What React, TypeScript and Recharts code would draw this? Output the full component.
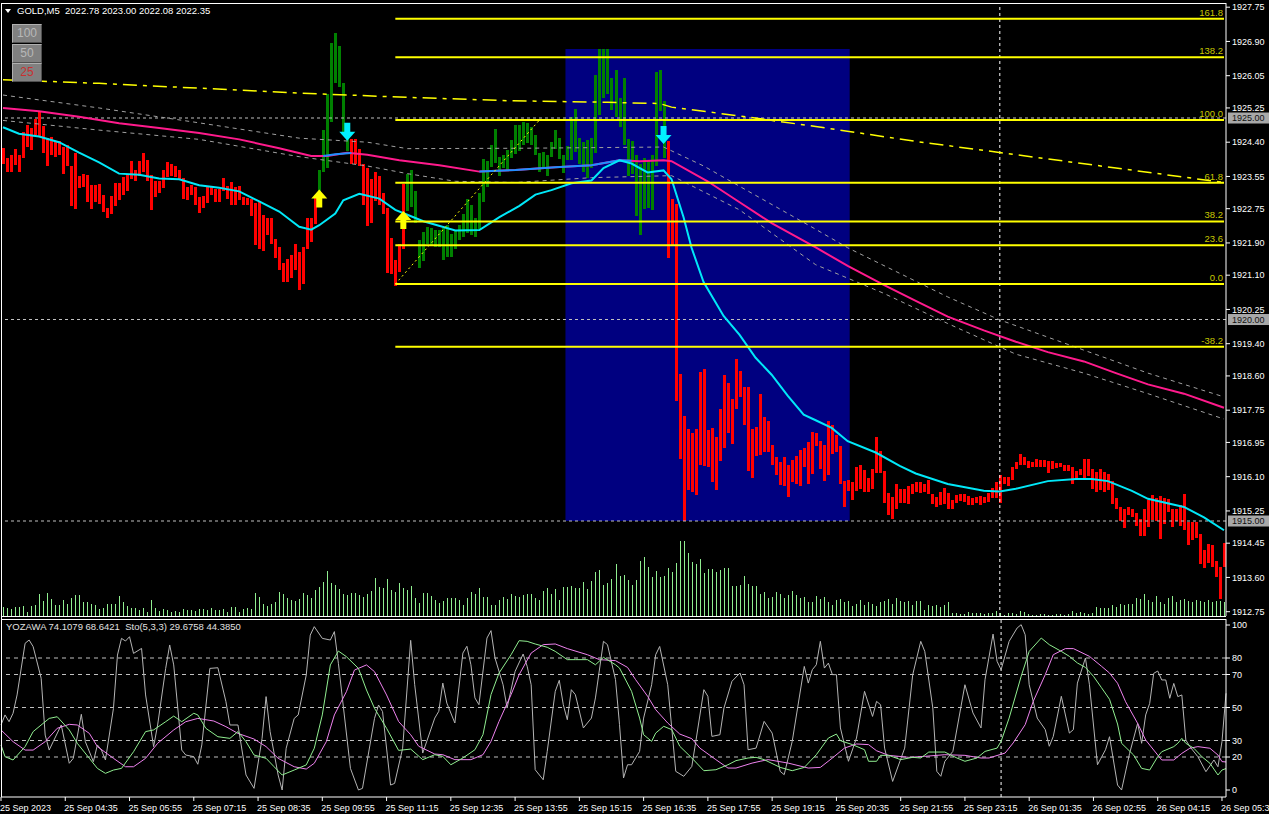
import React from "react"
import {
  ComposedChart, Bar, Line, XAxis, YAxis, ReferenceLine, ReferenceArea, ReferenceDot,
} from "recharts"

const FONT = "'Liberation Sans', Arial, sans-serif"
const W = 1269

// bar highs / lows, one per 5 min bar
const HIGH = [
  1924.26, 1924.02, 1924.09, 1924.23, 1924.07, 1924.66, 1924.82, 1924.75, 1924.97, 1925.17,
  1924.81, 1924.51, 1924.53, 1924.44, 1924.44, 1924.28, 1924.33, 1923.81, 1924.12, 1923.57,
  1923.62, 1923.59, 1923.34, 1923.34, 1923.37, 1923.10, 1922.77, 1923.07, 1923.39, 1923.39,
  1923.53, 1923.62, 1923.93, 1923.71, 1923.93, 1924.14, 1923.95, 1923.59, 1923.43, 1923.43,
  1923.70, 1923.90, 1923.87, 1923.81, 1923.71, 1923.50, 1923.29, 1923.34, 1923.29, 1923.03,
  1923.06, 1923.29, 1923.29, 1923.23, 1923.24, 1923.51, 1923.32, 1923.40, 1923.29, 1923.31,
  1923.03, 1923.01, 1922.98, 1922.88, 1922.91, 1922.60, 1922.52, 1922.52, 1921.99, 1921.80,
  1921.41, 1921.50, 1921.60, 1921.88, 1921.67, 1921.81, 1922.52, 1922.52, 1923.03, 1923.71,
  1924.70, 1925.59, 1926.85, 1927.10, 1926.79, 1925.86, 1924.61, 1924.47, 1924.47, 1924.23,
  1923.87, 1923.76, 1923.48, 1923.67, 1923.57, 1923.15, 1922.77, 1922.02, 1921.48, 1921.88,
  1923.37, 1923.60, 1923.71, 1923.20, 1921.97, 1922.16, 1922.30, 1922.27, 1922.21, 1922.21,
  1922.27, 1922.35, 1922.11, 1922.21, 1922.35, 1922.63, 1922.99, 1922.84, 1922.51, 1923.13,
  1923.99, 1923.93, 1924.33, 1924.72, 1924.04, 1924.09, 1924.20, 1924.45, 1924.82, 1924.82,
  1924.89, 1924.87, 1924.77, 1924.58, 1924.14, 1924.16, 1924.09, 1924.40, 1924.70, 1924.50,
  1924.09, 1924.30, 1925.02, 1925.22, 1924.50, 1924.40, 1924.46, 1924.50, 1926.07, 1926.72,
  1926.72, 1926.72, 1925.99, 1926.20, 1925.50, 1925.99, 1924.49, 1924.42, 1924.09, 1923.86,
  1924.00, 1923.95, 1924.09, 1926.14, 1926.20, 1925.41, 1924.42, 1922.99, 1922.87, 1918.65,
  1917.61, 1917.29, 1917.18, 1917.29, 1918.70, 1918.78, 1917.27, 1917.32, 1917.08, 1917.77,
  1918.62, 1918.42, 1918.02, 1919.03, 1918.73, 1918.32, 1918.32, 1917.29, 1917.34, 1918.14,
  1917.57, 1917.48, 1916.88, 1916.59, 1916.47, 1916.59, 1916.40, 1916.52, 1916.61, 1916.77,
  1916.80, 1916.96, 1917.20, 1917.18, 1916.99, 1916.89, 1917.49, 1917.38, 1917.13, 1916.87,
  1916.00, 1916.02, 1915.97, 1916.33, 1916.40, 1916.26, 1916.07, 1916.28, 1917.08, 1916.73,
  1916.24, 1915.70, 1915.60, 1915.93, 1915.79, 1915.79, 1915.88, 1915.93, 1915.98, 1915.97,
  1915.93, 1916.02, 1915.67, 1915.60, 1915.72, 1915.83, 1915.70, 1915.53, 1915.65, 1915.67,
  1915.67, 1915.62, 1915.56, 1915.60, 1915.61, 1915.60, 1915.69, 1915.83, 1915.97, 1916.14,
  1916.09, 1916.08, 1916.35, 1916.47, 1916.66, 1916.59, 1916.49, 1916.47, 1916.55, 1916.52,
  1916.52, 1916.49, 1916.50, 1916.44, 1916.44, 1916.40, 1916.40, 1916.35, 1916.25, 1916.30,
  1916.55, 1916.55, 1916.28, 1916.21, 1916.28, 1916.21, 1916.16, 1916.00, 1915.58, 1915.36,
  1915.30, 1915.34, 1915.30, 1915.20, 1915.06, 1915.31, 1915.53, 1915.64, 1915.56, 1915.62,
  1915.58, 1915.55, 1915.30, 1915.30, 1915.39, 1915.67, 1914.97, 1914.97, 1914.97, 1914.67,
  1914.28, 1914.43, 1914.40, 1914.00, 1913.87, 1914.45,
]

const LOW = [
  1923.85, 1923.67, 1923.65, 1923.84, 1923.65, 1924.02, 1924.28, 1924.21, 1924.58, 1924.56,
  1924.12, 1923.81, 1924.07, 1924.04, 1924.07, 1923.62, 1923.81, 1922.82, 1922.75, 1923.26,
  1923.29, 1922.91, 1922.73, 1922.91, 1922.87, 1922.68, 1922.51, 1922.63, 1922.82, 1922.96,
  1923.08, 1923.18, 1923.48, 1923.43, 1923.57, 1923.67, 1923.43, 1922.71, 1923.03, 1923.15,
  1923.26, 1923.53, 1923.57, 1923.53, 1923.45, 1922.99, 1922.96, 1923.10, 1922.84, 1922.65,
  1922.77, 1922.90, 1923.10, 1922.91, 1922.91, 1923.20, 1922.98, 1922.84, 1922.84, 1922.96,
  1922.84, 1922.84, 1922.57, 1921.86, 1921.74, 1921.69, 1922.10, 1921.88, 1921.53, 1921.22,
  1920.94, 1920.92, 1921.03, 1921.22, 1920.73, 1920.89, 1921.74, 1921.93, 1922.37, 1923.01,
  1923.65, 1923.76, 1924.91, 1925.86, 1925.76, 1924.65, 1924.19, 1923.87, 1923.86, 1923.81,
  1922.84, 1922.32, 1922.40, 1922.93, 1922.85, 1922.61, 1921.15, 1921.13, 1920.84, 1921.19,
  1921.76, 1922.70, 1922.79, 1922.40, 1921.27, 1921.44, 1921.88, 1921.83, 1921.81, 1921.79,
  1921.48, 1921.55, 1921.55, 1921.76, 1921.97, 1922.05, 1922.14, 1922.09, 1922.04, 1922.24,
  1922.91, 1923.29, 1923.79, 1923.88, 1923.55, 1923.76, 1923.71, 1924.00, 1924.11, 1924.19,
  1924.33, 1924.37, 1924.33, 1924.09, 1923.67, 1923.73, 1923.57, 1924.04, 1924.23, 1923.99,
  1923.64, 1923.95, 1923.95, 1924.16, 1923.86, 1923.67, 1923.50, 1923.76, 1924.14, 1925.08,
  1925.50, 1925.60, 1925.20, 1925.03, 1924.78, 1924.33, 1923.57, 1923.62, 1922.57, 1922.10,
  1922.73, 1922.77, 1922.71, 1923.81, 1925.17, 1924.00, 1921.53, 1921.86, 1917.98, 1916.55,
  1914.99, 1915.77, 1915.72, 1915.65, 1916.40, 1916.36, 1916.33, 1915.98, 1915.77, 1916.50,
  1916.80, 1917.18, 1916.92, 1917.79, 1918.07, 1917.39, 1916.24, 1916.07, 1916.61, 1916.64,
  1916.71, 1916.72, 1916.40, 1916.14, 1915.89, 1915.86, 1915.60, 1915.97, 1915.93, 1915.86,
  1916.33, 1915.91, 1916.16, 1916.85, 1916.28, 1916.00, 1916.14, 1916.66, 1916.71, 1915.91,
  1915.34, 1915.74, 1915.53, 1915.74, 1915.79, 1915.72, 1915.72, 1915.79, 1916.19, 1916.19,
  1915.44, 1915.15, 1915.06, 1915.30, 1915.44, 1915.44, 1915.42, 1915.67, 1915.72, 1915.70,
  1915.72, 1915.67, 1915.41, 1915.34, 1915.39, 1915.41, 1915.30, 1915.30, 1915.44, 1915.50,
  1915.48, 1915.39, 1915.39, 1915.45, 1915.39, 1915.44, 1915.47, 1915.56, 1915.56, 1915.44,
  1915.91, 1915.88, 1916.03, 1916.30, 1916.38, 1916.38, 1916.31, 1916.33, 1916.33, 1916.33,
  1916.35, 1916.19, 1916.30, 1916.31, 1916.33, 1916.24, 1916.24, 1915.91, 1916.03, 1916.14,
  1916.05, 1916.11, 1915.79, 1915.72, 1915.78, 1915.72, 1915.77, 1915.42, 1915.30, 1915.01,
  1914.82, 1915.15, 1915.09, 1914.87, 1914.62, 1914.64, 1914.85, 1915.03, 1915.01, 1914.56,
  1914.92, 1915.22, 1914.85, 1914.99, 1914.87, 1914.78, 1914.40, 1914.54, 1914.57, 1913.93,
  1913.84, 1913.96, 1913.87, 1913.60, 1913.07, 1913.87,
]

const VOLUME = [
  87, 77, 67, 87, 87, 103, 37, 100, 107, 220,
  150, 230, 170, 107, 107, 160, 120, 180, 210, 210,
  140, 140, 120, 110, 70, 80, 120, 120, 120, 200,
  140, 100, 80, 80, 60, 80, 37, 160, 80, 50,
  70, 60, 37, 50, 40, 70, 60, 60, 50, 70,
  70, 60, 80, 60, 60, 70, 37, 90, 90, 37,
  70, 80, 70, 230, 190, 120, 100, 120, 140, 240,
  220, 180, 160, 150, 170, 230, 210, 180, 260, 290,
  340, 450, 330, 310, 270, 220, 210, 230, 230, 210,
  190, 220, 250, 380, 290, 280, 370, 260, 240, 330,
  280, 260, 300, 180, 130, 230, 230, 200, 160, 130,
  150, 180, 180, 180, 160, 110, 180, 240, 220, 280,
  190, 190, 110, 110, 160, 190, 170, 220, 200, 190,
  210, 220, 220, 180, 160, 250, 280, 220, 270, 160,
  290, 290, 300, 280, 280, 340, 270, 350, 440, 460,
  310, 330, 370, 520, 400, 410, 360, 310, 360, 550,
  588, 486, 391, 455, 391, 398, 482, 440, 531, 751,
  751, 630, 543, 516, 569, 429, 474, 474, 436, 459,
  478, 478, 296, 296, 307, 398, 323, 296, 296, 220,
  239, 182, 190, 239, 220, 182, 209, 250, 213, 182,
  194, 144, 144, 200, 171, 190, 144, 106, 163, 175,
  144, 152, 99, 125, 163, 106, 137, 118, 99, 144,
  152, 175, 125, 182, 152, 144, 152, 106, 152, 152,
  61, 106, 99, 106, 87, 106, 144, 30, 30, 23,
  23, 38, 30, 30, 30, 23, 30, 30, 49, 30,
  11, 30, 30, 19, 49, 38, 23, 11, 11, 23,
  23, 11, 11, 23, 23, 11, 23, 49, 30, 38,
  30, 23, 30, 95, 76, 76, 76, 106, 87, 125,
  106, 125, 125, 182, 175, 220, 163, 144, 201, 144,
  125, 182, 201, 144, 163, 175, 152, 144, 163, 152,
  144, 163, 144, 152, 152, 144,
]

// bar index ranges drawn green
const GREEN_RANGES = [[79, 86], [101, 165]]

// moving averages: [bar index, price]
const CYAN_MA = [
  [0, 1924.77], [4, 1924.61], [9, 1924.54], [14, 1924.40], [19, 1924.14], [24, 1923.90], [29, 1923.62],
  [34, 1923.59], [39, 1923.50], [44, 1923.48], [49, 1923.33], [54, 1923.27], [59, 1923.18], [64, 1922.93],
  [69, 1922.68], [74, 1922.30], [77, 1922.23], [79, 1922.34], [83, 1922.63], [85, 1922.96], [89, 1923.12],
  [94, 1923.00], [98, 1922.72], [101, 1922.60], [105, 1922.44], [113, 1922.21], [119, 1922.22],
  [124, 1922.54], [129, 1922.82], [133, 1923.10], [137, 1923.21], [142, 1923.38], [147, 1923.45],
  [150, 1923.76], [154, 1923.95], [157, 1923.87], [161, 1923.65], [165, 1923.70], [167, 1923.48],
  [170, 1922.54], [172, 1921.78], [175, 1920.93], [180, 1920.09], [184, 1919.62], [188, 1919.05],
  [192, 1918.63], [196, 1918.11], [200, 1917.64], [203, 1917.50], [207, 1917.31], [211, 1916.98],
  [218, 1916.70], [224, 1916.37], [228, 1916.18], [236, 1915.92], [245, 1915.75], [249, 1915.73],
  [253, 1915.80], [261, 1915.99], [268, 1916.04], [272, 1916.04], [276, 1915.99], [282, 1915.75],
  [286, 1915.55], [295, 1915.35], [300, 1915.09], [305, 1914.77],
]

const PINK_MA = [
  [0, 1925.25], [9, 1925.17], [19, 1925.03], [29, 1924.87], [39, 1924.75], [49, 1924.63], [59, 1924.47],
  [69, 1924.25], [77, 1924.06], [81, 1924.06], [86, 1924.14], [91, 1924.09], [99, 1923.95], [109, 1923.83],
  [119, 1923.67], [128, 1923.71], [138, 1923.78], [147, 1923.83], [154, 1923.95], [159, 1923.93],
  [165, 1923.95], [167, 1923.93], [176, 1923.43], [184, 1922.91], [192, 1922.39], [203, 1921.79],
  [211, 1921.33], [220, 1920.86], [228, 1920.46], [236, 1920.07], [245, 1919.73], [253, 1919.45],
  [261, 1919.19], [270, 1918.96], [278, 1918.67], [286, 1918.39], [295, 1918.16], [305, 1917.81],
]

const BLUE_MA_A = [[80, 1924.06], [83, 1924.10], [87, 1924.13]]
const BLUE_MA_B = [[119, 1923.67], [128, 1923.71], [138, 1923.78], [147, 1923.83], [154, 1923.95], [157, 1923.94]]

const ENV_UPPER = [
  [0, 1925.57], [24, 1925.25], [49, 1924.88], [74, 1924.50], [91, 1924.40], [101, 1924.24], [130, 1924.25],
  [165, 1924.28], [175, 1923.81], [203, 1922.24], [211, 1921.78], [236, 1920.56], [249, 1919.99],
  [270, 1919.24], [286, 1918.67], [305, 1918.08],
]

const ENV_LOWER = [
  [0, 1924.94], [24, 1924.70], [49, 1924.47], [74, 1924.04], [91, 1923.81], [101, 1923.62], [113, 1923.43],
  [128, 1923.40], [147, 1923.52], [167, 1923.57], [184, 1922.72], [203, 1921.36], [220, 1920.65],
  [236, 1919.90], [253, 1919.14], [270, 1918.67], [286, 1918.16], [305, 1917.53],
]

const YELLOW_MA = [
  [0, 1925.95], [24, 1925.86], [49, 1925.74], [74, 1925.62], [99, 1925.52], [126, 1925.43], [151, 1925.39],
  [164, 1925.36], [167, 1925.27], [184, 1925.05], [203, 1924.79], [228, 1924.42], [253, 1924.09],
  [278, 1923.76], [305, 1923.40],
]

// oscillator lines: [bar index, value]
const YOZAWA = [
  [0, 39.4], [1, 45.5], [2, 41.4], [3, 46.5], [4, 57.6], [6, 88.9], [7, 90.9], [8, 86.9], [10, 67.7], [11, 33.3],
  [12, 24.2], [13, 29.3], [15, 39.4], [17, 16.2], [18, 19.2], [20, 45.9], [21, 29.3], [23, 17.2], [24, 27.3],
  [25, 24.2], [26, 18.2], [28, 49.5], [29, 81.8], [30, 91.9], [31, 90.3], [32, 92.9], [33, 82.8], [35, 85.8],
  [36, 57.6], [38, 26.3], [39, 39.4], [41, 73.7], [42, 87.9], [43, 75.8], [45, 24.2], [46, 21.2], [48, 20.2],
  [49, 15.6], [50, 27.3], [52, 73.7], [54, 74.1], [56, 53.6], [57, 39.4], [59, 39.4], [61, 9.1], [63, 1.0],
  [65, 31.3], [66, 56.6], [67, 35.4], [69, 9.1], [70, 0], [71, 25.3], [73, 43.4], [74, 45.5], [76, 69.7],
  [77, 93.9], [78, 99], [80, 91.9], [82, 90.9], [83, 96], [84, 76.8], [87, 13.1], [89, 0], [90, 1], [93, 43.4],
  [94, 51.5], [95, 47.5], [97, 3], [98, 4], [100, 25.3], [102, 90.7], [103, 63.8], [105, 22.4], [108, 43.6],
  [109, 47.7], [110, 64.8], [111, 52.7], [113, 40.6], [115, 83], [116, 87.1], [117, 75.9], [118, 55.8],
  [119, 51.7], [121, 92.1], [122, 96.6], [123, 80], [125, 63.8], [126, 49.7], [128, 71.9], [130, 82.4],
  [131, 75], [132, 63.8], [133, 12.3], [135, 6.2], [136, 23.4], [138, 59.8], [139, 66.5], [140, 51.7],
  [141, 42.6], [142, 60.8], [143, 57.8], [145, 37.6], [147, 43.6], [148, 55.8], [150, 90.1], [151, 88.1],
  [153, 66.9], [154, 39.6], [155, 7.3], [156, 15.3], [157, 15.3], [159, 23.4], [160, 43.6], [162, 63.8],
  [163, 82], [164, 87], [166, 63.8], [167, 37.6], [168, 11.3], [170, 8.3], [172, 14.3], [173, 29.5],
  [175, 60.8], [176, 56.8], [177, 32.5], [179, 33.5], [180, 49.7], [182, 65.9], [184, 70.9], [185, 63.8],
  [186, 24.4], [188, 25.4], [190, 41.6], [192, 34.5], [194, 11.3], [195, 9.3], [197, 29.5], [200, 74.9],
  [201, 64.8], [202, 72.9], [203, 75.9], [204, 90.1], [205, 73.9], [206, 76.9], [207, 69.9], [208, 69.9],
  [209, 37.6], [211, 17.4], [213, 31.5], [215, 59.8], [217, 44.6], [218, 53.7], [219, 51.7], [220, 25.4],
  [222, 5.2], [225, 25.4], [227, 69.9], [229, 90.1], [230, 84], [232, 49.7], [233, 11.3], [234, 8.3],
  [235, 17.4], [237, 23.4], [240, 63.8], [242, 46.7], [244, 37.6], [245, 66.9], [247, 94.5], [248, 78],
  [249, 72.9], [251, 90.1], [253, 98.2], [254, 100.2], [255, 94.1], [256, 63.8], [258, 43.6], [260, 36.6],
  [261, 26.5], [262, 32.5], [264, 56.8], [266, 34.5], [267, 36.6], [268, 64.8], [270, 80], [271, 63.8],
  [273, 15.3], [275, 24.4], [276, 32.3], [278, 3], [279, 0], [281, 22.2], [283, 40.4], [284, 28.3],
  [285, 45.5], [286, 52.5], [287, 70.7], [288, 72.1], [289, 66.7], [290, 66.7], [291, 55.6], [292, 64.6],
  [293, 56.6], [294, 57.6], [295, 30.3], [296, 26.3], [298, 20.2], [300, 11.1], [302, 18.2], [303, 14.1],
  [304, 29.3], [305, 58.6],
]

const STO_MAIN = [
  [0, 27.3], [1, 20.2], [3, 18.2], [6, 26.3], [8, 35.4], [12, 43.4], [14, 44.4], [17, 36.4], [19, 28.3],
  [22, 19.2], [24, 13.1], [26, 10.1], [28, 12.1], [30, 13.1], [33, 23.2], [36, 35.4], [38, 36.4], [41, 41.4],
  [43, 44.8], [45, 41.4], [48, 46.5], [49, 45.5], [51, 37.4], [54, 32.3], [57, 31.3], [59, 35.4], [61, 29.3],
  [63, 21.2], [66, 19.2], [68, 14.1], [70, 9.1], [73, 12.1], [76, 15.2], [78, 25.3], [80, 45.5], [82, 75.8],
  [84, 84.2], [86, 80.8], [89, 73.7], [91, 60.6], [93, 49.5], [96, 37.4], [99, 24.0], [102, 24.8],
  [105, 18.4], [108, 21.4], [110, 20.4], [112, 15.3], [115, 19.4], [118, 24.4], [120, 33.5], [122, 57.8],
  [124, 70.9], [127, 82], [129, 90.5], [131, 90.1], [133, 88.5], [136, 86.5], [138, 84], [141, 79],
  [143, 79], [146, 79], [148, 75.9], [150, 80.4], [153, 75.9], [154, 73.9], [157, 59.8], [159, 43.6],
  [160, 33.5], [162, 29.5], [163, 34.5], [165, 38.6], [167, 36.6], [169, 26.5], [172, 19.4], [175, 11.7],
  [178, 12.3], [181, 15.3], [183, 17.8], [186, 19.4], [188, 19.8], [190, 18.4], [194, 13.7], [197, 11.7],
  [200, 13.7], [203, 21.4], [206, 31.5], [208, 33.9], [209, 29.9], [212, 27.5], [215, 24.4], [216, 17.4],
  [218, 17.4], [219, 21], [221, 21], [224, 18.4], [227, 19.8], [229, 19.4], [231, 23], [235, 23],
  [238, 19.4], [240, 17.4], [243, 19.4], [245, 23.4], [248, 25.4], [249, 29.5], [251, 43.6], [254, 68.9],
  [256, 84], [259, 92.1], [261, 88.1], [264, 84], [266, 81], [268, 77], [270, 74.3], [272, 68.9], [274, 62],
  [276, 55], [278, 40], [279, 28.3], [282, 21.2], [284, 13.1], [286, 12.1], [288, 20.2], [289, 23.2],
  [292, 26.3], [293, 28.3], [294, 31.3], [295, 28.3], [297, 25.3], [299, 20.2], [301, 16.2], [303, 9.1],
  [304, 12.1], [305, 13],
]

const STO_SIGNAL = [
  [0, 36.4], [3, 29.3], [6, 24.2], [8, 24.2], [11, 29.3], [14, 37.4], [17, 39.8], [19, 39.4], [22, 34.3],
  [24, 26.3], [28, 19.2], [31, 14.1], [33, 14.1], [36, 19.2], [39, 28.3], [43, 36.4], [46, 41.4], [49, 43.4],
  [53, 41.8], [56, 38.4], [59, 34.3], [63, 30.9], [66, 26.3], [69, 19.2], [73, 14.1], [76, 12.7], [78, 16.2],
  [81, 29.3], [83, 45.5], [86, 59.6], [88, 72.7], [91, 75.8], [93, 71.7], [96, 57.6], [99, 41.5], [102, 33.5],
  [104, 26.5], [108, 21.8], [110, 21.4], [113, 18.4], [117, 18.4], [120, 21.4], [122, 29.5], [124, 41.6],
  [127, 57.8], [129, 69.9], [132, 83], [135, 88.1], [138, 88.5], [141, 85.7], [146, 82], [149, 79],
  [153, 78.4], [156, 74.3], [158, 66.9], [161, 56.8], [163, 48.7], [166, 40.6], [169, 33.9], [172, 31.1],
  [174, 25.4], [178, 18.4], [181, 13.3], [183, 13.3], [187, 16.3], [189, 17.4], [191, 18.4], [196, 16.3],
  [201, 13.3], [204, 13.7], [207, 19.4], [210, 25.4], [213, 27.9], [216, 27.5], [218, 23.8], [221, 21],
  [226, 19.8], [230, 20.4], [235, 21.4], [240, 21], [244, 19.4], [246, 19.4], [250, 22.4], [252, 28.5],
  [255, 39.6], [257, 53.7], [260, 69.9], [262, 82], [265, 85.7], [267, 85.7], [271, 81], [274, 75],
  [276, 70.9], [278, 64.7], [280, 53.5], [283, 40.4], [285, 30.3], [288, 21.2], [289, 18.2], [292, 18.2],
  [294, 22.2], [296, 25.3], [298, 26.3], [301, 25.3], [303, 21.2], [304, 17.2], [305, 17],
]

const TIME_LABELS = [
  "25 Sep 2023", "25 Sep 04:35", "25 Sep 05:55", "25 Sep 07:15", "25 Sep 08:35", "25 Sep 09:55",
  "25 Sep 11:15", "25 Sep 12:35", "25 Sep 13:55", "25 Sep 15:15", "25 Sep 16:35", "25 Sep 17:55",
  "25 Sep 19:15", "25 Sep 20:35", "25 Sep 21:55", "25 Sep 23:15", "26 Sep 01:35", "26 Sep 02:55",
  "26 Sep 04:15", "26 Sep 05:35",
]
const TIME_TICKS = TIME_LABELS.map((_, k) => k * 16)

const PRICE_TICKS = [
  1927.75, 1926.90, 1926.05, 1925.25, 1924.40, 1923.55, 1922.75, 1921.90, 1921.10, 1920.25,
  1919.40, 1918.60, 1917.75, 1916.95, 1916.10, 1915.25, 1914.45, 1913.60, 1912.75,
]
const GRID_PRICES = [1925.0, 1920.0, 1915.0]
const OSC_TICKS = [0, 20, 30, 50, 70, 80, 100]
const OSC_LEVELS = [20, 30, 50, 70, 80]

const FIB_START = 98
const FIB_LOW = 1920.88
const FIB_HIGH = 1924.95
const FIB_END_TREND = 134
const FIB_LEVELS = [161.8, 138.2, 100, 61.8, 38.2, 23.6, 0, -38.2]

const BOX = { x1: 141, x2: 211, y1: 1915.0, y2: 1926.71 }
const UP_ARROWS = [[79, 1923.0], [100, 1922.47]]
const DOWN_ARROWS = [[86, 1924.66], [165, 1924.58]]
const SEPARATOR = 249

const toMap = (pts) => new Map(pts.map(([i, v]) => [i, v]))
const series = {
  cyan: toMap(CYAN_MA), pink: toMap(PINK_MA), blueA: toMap(BLUE_MA_A), blueB: toMap(BLUE_MA_B),
  up: toMap(ENV_UPPER), lo: toMap(ENV_LOWER), yel: toMap(YELLOW_MA),
  yoz: toMap(YOZAWA), sto: toMap(STO_MAIN), sig: toMap(STO_SIGNAL),
}
const isGreen = (i) => GREEN_RANGES.some(([a, b]) => i >= a && i <= b)

const rows = HIGH.map((h, i) => {
  const r: any = { i, range: [LOW[i], h], vol: VOLUME[i], green: isGreen(i) }
  for (const k of Object.keys(series)) r[k] = series[k].has(i) ? series[k].get(i) : null
  return r
})

const RED = "#ff0000"
const GREEN = "#008000"

// snap bars to whole pixels so thin bars stay crisp
const PriceBar = (p) => {
  const { x, y, width, height, payload } = p
  if (height == null || isNaN(height)) return null
  const cx = Math.round(x + width / 2 - 1.5)
  return <rect x={cx} y={y} width={3} height={Math.max(1, height)} fill={payload.green ? GREEN : RED} shapeRendering="crispEdges" />
}
const VolBar = (p) => {
  const { x, y, width, height } = p
  if (!height) return null
  return <rect x={Math.round(x + width / 2 - 0.5)} y={y} width={1} height={height} fill="#90ee90" shapeRendering="crispEdges" />
}

const upArrow = (fill) => (p) => {
  const { cx, cy } = p
  const d = `M${cx},${cy - 9} L${cx + 8},${cy} L${cx + 3},${cy} L${cx + 3},${cy + 9} L${cx - 3},${cy + 9} L${cx - 3},${cy} L${cx - 8},${cy} Z`
  return <path d={d} fill={fill} />
}
const downArrow = (fill) => (p) => {
  const { cx, cy } = p
  const d = `M${cx},${cy + 9} L${cx + 8},${cy} L${cx + 3},${cy} L${cx + 3},${cy - 9} L${cx - 3},${cy - 9} L${cx - 3},${cy} L${cx - 8},${cy} Z`
  return <path d={d} fill={fill} />
}

const fibLabel = (text) => (props) => {
  const vb = props.viewBox
  if (!vb) return null
  return (
    <text x={vb.x + vb.width - 1} y={vb.y - 3} textAnchor="end" fill="#c8c800" fontSize={9.5} fontFamily={FONT}>
      {text}
    </text>
  )
}

const priceTag = (text) => (props) => {
  const vb = props.viewBox
  if (!vb) return null
  const x = vb.x + vb.width + 2
  return (
    <g>
      <rect x={x} y={vb.y - 5.5} width={45} height={11} fill="#a8a8a8" />
      <text x={x + 4} y={vb.y} dy="0.35em" fill="#101010" fontSize={9} fontFamily={FONT}>{text}</text>
    </g>
  )
}

const TimeTick = (props) => {
  const { x, y, payload } = props
  return (
    <text x={x - 1} y={y + 8} fill="#ffffff" fontSize={9} fontFamily={FONT}>
      {TIME_LABELS[payload.value / 16]}
    </text>
  )
}

const lineProps = { dot: false, activeDot: false, isAnimationActive: false, connectNulls: true }

function MainPanel() {
  return (
    <ComposedChart width={W} height={617} data={rows} margin={{ top: 3, right: 0, bottom: 1, left: 1 }} barCategoryGap={0}>
      <XAxis dataKey="i" type="category" hide />
      <YAxis
        orientation="right" width={43} domain={[1912.643, 1927.854]} allowDataOverflow
        ticks={PRICE_TICKS} interval={0} tickSize={4}
        tickFormatter={(v) => v.toFixed(2)}
        tick={{ fill: "#ffffff", fontSize: 9, fontFamily: FONT }}
        axisLine={{ stroke: "#ffffff" }} tickLine={{ stroke: "#ffffff" }}
      />
      <ReferenceArea x1={BOX.x1} x2={BOX.x2} y1={BOX.y1} y2={BOX.y2} fill="#000080" fillOpacity={1} stroke="none" />
      {GRID_PRICES.map((p) => (
        <ReferenceLine key={p} y={p} stroke="#c0c0c0" strokeDasharray="3 3" label={priceTag(p.toFixed(2))} />
      ))}
      <ReferenceLine x={SEPARATOR} stroke="#ffffff" strokeDasharray="3 3" />
      <Bar dataKey="range" barSize={3} isAnimationActive={false} shape={PriceBar} />
      <Line dataKey="yel" stroke="#ffff00" strokeWidth={1.5} strokeDasharray="14 6 4 6" {...lineProps} />
      <Line dataKey="up" stroke="#a0a0a0" strokeWidth={1} strokeDasharray="4 4" {...lineProps} />
      <Line dataKey="lo" stroke="#a0a0a0" strokeWidth={1} strokeDasharray="4 4" {...lineProps} />
      <Line dataKey="pink" stroke="#ff1a8c" strokeWidth={2} {...lineProps} />
      <Line dataKey="blueA" stroke="#1e90ff" strokeWidth={2} {...lineProps} />
      <Line dataKey="blueB" stroke="#1e90ff" strokeWidth={2} {...lineProps} />
      <Line dataKey="cyan" stroke="#00e8f8" strokeWidth={2} {...lineProps} />
      {FIB_LEVELS.map((lv) => {
        const p = FIB_LOW + ((FIB_HIGH - FIB_LOW) * lv) / 100
        return (
          <ReferenceLine
            key={lv}
            segment={[{ x: FIB_START, y: p }, { x: rows.length - 1, y: p }]}
            stroke="#ffff00" strokeWidth={2}
            label={fibLabel(lv.toFixed(1))}
          />
        )
      })}
      <ReferenceLine
        segment={[{ x: FIB_START, y: FIB_LOW }, { x: FIB_END_TREND, y: FIB_HIGH }]}
        stroke="#ffff00" strokeWidth={1} strokeDasharray="2 3"
      />
      {UP_ARROWS.map(([i, p]) => (
        <ReferenceDot key={"u" + i} x={i} y={p} r={8} shape={upArrow("#ffff00")} />
      ))}
      {DOWN_ARROWS.map(([i, p]) => (
        <ReferenceDot key={"d" + i} x={i} y={p} r={8} shape={downArrow("#00f0ff")} />
      ))}
    </ComposedChart>
  )
}

function VolumePanel() {
  return (
    <ComposedChart width={W} height={617} data={rows} margin={{ top: 3, right: 43, bottom: 1, left: 1 }} barCategoryGap={0}>
      <XAxis dataKey="i" type="category" hide />
      <YAxis hide domain={[0, 6130]} allowDataOverflow />
      <Bar dataKey="vol" barSize={1} fill="#90ee90" isAnimationActive={false} shape={VolBar} />
    </ComposedChart>
  )
}

function OscPanel() {
  return (
    <ComposedChart width={W} height={197} data={rows} margin={{ top: 2, right: 0, bottom: 0, left: 1 }}>
      <XAxis
        dataKey="i" type="category" ticks={TIME_TICKS} interval={0} height={17} tickSize={4}
        tick={<TimeTick />} axisLine={{ stroke: "#ffffff" }} tickLine={{ stroke: "#ffffff" }}
      />
      <YAxis
        orientation="right" width={43} domain={[-4.24, 103.64]} allowDataOverflow
        ticks={OSC_TICKS} interval={0} tickSize={4}
        tick={{ fill: "#ffffff", fontSize: 9, fontFamily: FONT }}
        axisLine={{ stroke: "#ffffff" }} tickLine={{ stroke: "#ffffff" }}
      />
      {OSC_LEVELS.map((v) => (
        <ReferenceLine key={v} y={v} stroke="#c0c0c0" strokeDasharray="4 4" />
      ))}
      <ReferenceLine x={SEPARATOR} stroke="#ffffff" strokeDasharray="3 3" />
      <Line dataKey="yoz" stroke="#b4b4b4" strokeWidth={1} {...lineProps} />
      <Line dataKey="sig" stroke="#ee82ee" strokeWidth={1} {...lineProps} />
      <Line dataKey="sto" stroke="#90ee90" strokeWidth={1} {...lineProps} />
    </ComposedChart>
  )
}

const btn = (top, label, color) => (
  <div
    style={{
      position: "absolute", left: 12, top, width: 30, height: 19, boxSizing: "border-box",
      background: "#808080", borderTop: "1px solid #b0b0b0", borderLeft: "1px solid #b0b0b0",
      borderBottom: "1px solid #505050", borderRight: "1px solid #505050",
      color, fontSize: 12, fontFamily: FONT, textAlign: "center", lineHeight: "17px",
    }}
  >
    {label}
  </div>
)

export default function App() {
  return (
    <div style={{ position: "absolute", left: 0, top: 0, width: W, height: 814, background: "#000", overflow: "hidden", fontFamily: FONT }}>
      <div style={{ position: "absolute", left: 0, top: 0 }}><VolumePanel /></div>
      <div style={{ position: "absolute", left: 0, top: 0 }}><MainPanel /></div>
      <div style={{ position: "absolute", left: 0, top: 617 }}><OscPanel /></div>
      <svg width={W} height={814} style={{ position: "absolute", left: 0, top: 0, pointerEvents: "none" }}>
        <line x1={1.5} y1={3} x2={1.5} y2={797} stroke="#fff" />
        <line x1={1} y1={3.5} x2={1226} y2={3.5} stroke="#fff" />
        <line x1={1} y1={616.5} x2={1226} y2={616.5} stroke="#fff" />
        <line x1={1} y1={619.5} x2={1226} y2={619.5} stroke="#fff" />
        <path d="M5,9 L11,9 L8,13 Z" fill="#fff" />
      </svg>
      <div style={{ position: "absolute", left: 17, top: 5, color: "#fff", fontSize: 9.5, whiteSpace: "pre" }}>
        GOLD,M5  2022.78 2023.00 2022.08 2022.35
      </div>
      {btn(24, "100", "#b8b8b8")}
      {btn(44, "50", "#b8b8b8")}
      {btn(63, "25", "#c83030")}
      <div style={{ position: "absolute", left: 6, top: 621, color: "#e0e0e0", fontSize: 9.5, whiteSpace: "pre" }}>
        YOZAWA 74.1079 68.6421  Sto(5,3,3) 29.6758 44.3850
      </div>
    </div>
  )
}
